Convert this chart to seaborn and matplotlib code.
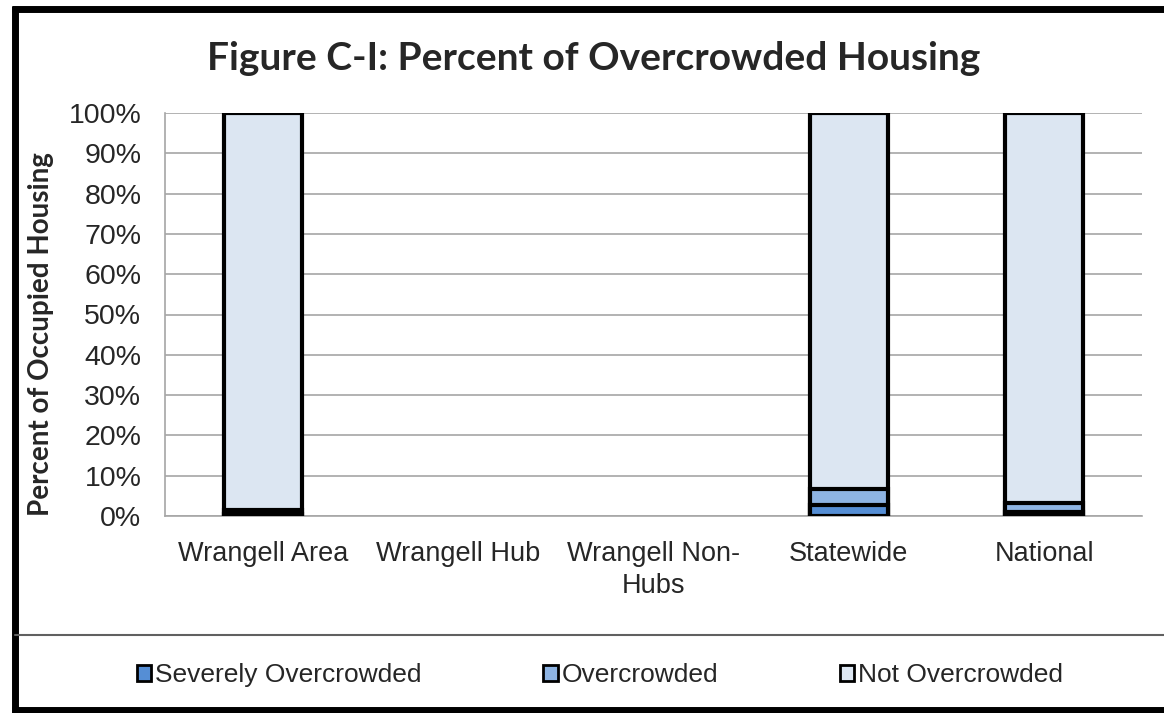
import matplotlib
matplotlib.use("Agg")
import matplotlib.pyplot as plt
from matplotlib import ticker
from matplotlib.lines import Line2D
from matplotlib.patches import Patch
import seaborn as sns
import pandas as pd
import numpy as np

# data (percent of occupied housing)
categories = ["Wrangell Area", "Wrangell Hub", "Wrangell Non-\nHubs", "Statewide", "National"]
severely = [0.4, np.nan, np.nan, 2.7, 0.9]
overcrowded = [1.2, np.nan, np.nan, 3.9, 2.4]
not_overcrowded = [98.4, np.nan, np.nan, 93.4, 96.7]
series_names = ["Severely Overcrowded", "Overcrowded", "Not Overcrowded"]
colors = ["#558ED5", "#8EB4E3", "#DCE6F2"]

df = pd.DataFrame({"cat": categories, "sev": severely, "over": overcrowded, "not": not_overcrowded})
df["top1"] = df["sev"]
df["top2"] = df["sev"] + df["over"]
df["top3"] = df["sev"] + df["over"] + df["not"]

sns.set_style("white")
plt.rcParams["font.family"] = ["Liberation Sans", "DejaVu Sans"]

fig = plt.figure(figsize=(11.64, 7.13), dpi=100)
ax = fig.add_axes([165 / 1164, 1 - 516 / 713, (1142 - 165) / 1164, (516 - 113) / 713])

# stacked bars: draw cumulative totals from the top down
for col, c in zip(["top3", "top2", "top1"], colors[::-1]):
    sns.barplot(data=df, x="cat", y=col, order=categories, color=c, width=0.4,
                edgecolor="black", linewidth=3, saturation=1, ax=ax, zorder=3)

ax.set_ylim(0, 100)
ax.set_xlim(-0.5, len(categories) - 0.5)
ax.yaxis.set_major_locator(ticker.MultipleLocator(10))
ax.yaxis.set_major_formatter(ticker.FuncFormatter(lambda v, p: f"{v:.0f}%"))
ax.grid(axis="y", color="#A6A6A6", linewidth=1.2, zorder=0)
ax.set_axisbelow(True)

ax.set_xticks(range(len(categories)))
ax.set_xticklabels(categories, fontsize=19.5, linespacing=1.3)
ax.xaxis.set_minor_locator(ticker.FixedLocator(np.arange(-0.5, len(categories), 1)))
ax.tick_params(axis="x", which="major", length=0, pad=18)
ax.tick_params(axis="x", which="minor", length=9, color="#A6A6A6", width=1.2, direction="out")
ax.tick_params(axis="y", length=9, color="#A6A6A6", width=1.2, direction="out", labelsize=20.5, pad=8)

for s in ["top", "right"]:
    ax.spines[s].set_visible(False)
ax.spines["left"].set_color("#A6A6A6")
ax.spines["bottom"].set_color("#A6A6A6")
ax.spines["left"].set_linewidth(1.2)
ax.spines["bottom"].set_linewidth(1.2)

ax.set_xlabel("")
ax.set_ylabel("Percent of Occupied Housing", fontsize=20, fontweight="bold",
              family=["Lato", "DejaVu Sans"])
ax.yaxis.set_label_coords(-0.1135, 0.452)

fig.text(594 / 1164, 1 - 58 / 713, "Figure C-I: Percent of Overcrowded Housing",
         ha="center", va="center", fontsize=28, fontweight="bold", family=["Lato", "DejaVu Sans"])

handles = [Patch(facecolor=c, edgecolor="black", linewidth=2) for c in colors]
fig.legend(handles, series_names, loc="center", bbox_to_anchor=(600 / 1164, 1 - 675 / 713),
           ncol=3, frameon=False, fontsize=19, handlelength=0.55, handleheight=0.55,
           handletextpad=0.15, columnspacing=4.6)

# chart frame and separator line
fig.add_artist(Line2D([15 / 1164, 15 / 1164], [0, 1 - 6 / 713], color="black", linewidth=5,
                      solid_capstyle="butt"))
fig.add_artist(Line2D([12 / 1164, 1], [1 - 9 / 713, 1 - 9 / 713], color="black", linewidth=5,
                      solid_capstyle="butt"))
fig.add_artist(Line2D([12 / 1164, 1], [3 / 713, 3 / 713], color="black", linewidth=5,
                      solid_capstyle="butt"))
fig.add_artist(Line2D([15 / 1164, 1], [1 - 635 / 713, 1 - 635 / 713], color="#606060", linewidth=1.5))

plt.savefig("out.png", dpi=100)
